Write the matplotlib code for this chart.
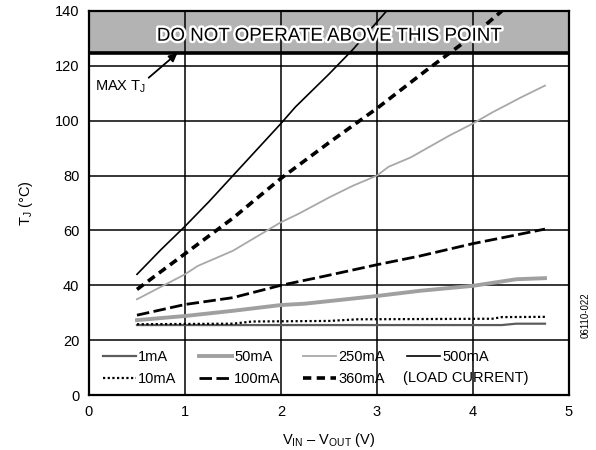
import matplotlib

matplotlib.use("Agg")
import matplotlib.pyplot as plt
import matplotlib.patheffects as pe
from matplotlib.lines import Line2D

plt.rcParams["font.family"] = ["Liberation Sans", "DejaVu Sans"]
plt.rcParams["mathtext.fontset"] = "custom"
plt.rcParams["mathtext.rm"] = "Liberation Sans"
plt.rcParams["mathtext.it"] = "Liberation Sans"

# junction temperature vs headroom, per load current
v_1ma = [0.5, 4.3, 4.45, 4.75]
t_1ma = [25.5, 25.5, 26.0, 26.0]

v_10ma = [0.5, 1.5, 1.7, 2.5, 2.8, 4.2, 4.3, 4.75]
t_10ma = [25.8, 26.0, 26.8, 27.0, 27.6, 27.8, 28.4, 28.5]

v_50ma = [0.5, 1.0, 1.5, 2.0, 2.25, 3.0, 3.45, 4.0, 4.45, 4.75]
t_50ma = [27.3, 28.8, 30.7, 32.8, 33.3, 36.1, 38.0, 39.8, 42.2, 42.6]

v_100ma = [0.5, 1.0, 1.5, 2.0, 2.45, 3.0, 3.45, 4.0, 4.4, 4.75]
t_100ma = [29.1, 33.0, 35.5, 40.0, 43.3, 47.5, 50.7, 55.2, 58.0, 60.5]

v_250ma = [0.5, 1.0, 1.13, 1.5, 2.0, 2.18, 2.5, 2.75, 3.0, 3.12, 3.35, 3.75, 4.0, 4.2, 4.5, 4.75]
t_250ma = [34.9, 44.0, 47.0, 52.6, 63.0, 66.0, 72.0, 76.3, 80.0, 83.2, 86.6, 94.5, 99.0, 103.0, 108.5, 112.8]

v_360ma = [0.5, 1.0, 1.5, 2.0, 2.5, 3.0, 3.5, 4.0, 4.3]
t_360ma = [38.5, 51.5, 64.5, 79.0, 92.0, 104.5, 118.0, 131.0, 140.0]

v_500ma = [0.5, 0.75, 1.0, 1.25, 1.5, 1.75, 2.0, 2.15, 2.5, 2.75, 3.1]
t_500ma = [44.0, 53.0, 61.5, 70.5, 80.0, 89.5, 99.0, 105.0, 117.0, 126.0, 140.0]

T_MAX = 125
X_TICKS = [0, 1, 2, 3, 4, 5]
Y_TICKS = [0, 20, 40, 60, 80, 100, 120, 140]

fig = plt.figure(figsize=(5.96, 4.5), dpi=100)
ax = fig.add_axes([0.1493, 0.1222, 0.8054, 0.8534])

ax.set_xlim(0, 5)
ax.set_ylim(0, 140)
ax.set_xticks(X_TICKS)
ax.set_yticks(Y_TICKS)
ax.tick_params(length=0, labelsize=10.5, pad=7)
for s in ax.spines.values():
    s.set_linewidth(1.6)
    s.set_zorder(5)

# forbidden zone above max Tj
ax.axhspan(T_MAX, 140, color="#b3b3b3", zorder=0.5)

# grid drawn by hand so it sits over the grey band
for xv in X_TICKS[1:-1]:
    ax.axvline(xv, color="black", lw=1.1, zorder=1)
for yv in Y_TICKS[1:-1]:
    ax.axhline(yv, color="black", lw=1.1, zorder=1)

ax.axhline(T_MAX - 0.5, color="black", lw=2.6, zorder=1.5)
ax.text(2.5, 130.8, "DO NOT OPERATE ABOVE THIS POINT", ha="center", va="center",
        fontsize=13.5, color="black", zorder=4,
        path_effects=[pe.withStroke(linewidth=3.5, foreground="white")])
ax.annotate("MAX T$_\\mathrm{J}$", xy=(0.92, 124.6), xytext=(0.06, 112.5),
            ha="left", va="center", fontsize=10.5, zorder=4,
            arrowprops=dict(arrowstyle="-|>", color="black", lw=1.3,
                            shrinkA=0, shrinkB=0, mutation_scale=12,
                            relpos=(0.95, 0.75)))

l1, = ax.plot(v_1ma, t_1ma, color="#5c5c5c", lw=1.6, label="1mA", zorder=3)
l10, = ax.plot(v_10ma, t_10ma, color="black", lw=1.6, dashes=(1, 1.1), label="10mA", zorder=3)
l50, = ax.plot(v_50ma, t_50ma, color="#a0a0a0", lw=2.8, label="50mA", zorder=3)
l100, = ax.plot(v_100ma, t_100ma, color="black", lw=2.0, dashes=(4.5, 1.6), label="100mA", zorder=3)
l250, = ax.plot(v_250ma, t_250ma, color="#a8a8a8", lw=1.3, label="250mA", zorder=3)
l360, = ax.plot(v_360ma, t_360ma, color="black", lw=2.6, dashes=(2.3, 1.5), label="360mA", zorder=3)
l500, = ax.plot(v_500ma, t_500ma, color="black", lw=1.2, label="500mA", zorder=3)

blank = Line2D([], [], visible=False)
handles = [l1, l10, l50, l100, l250, l360, l500, blank]
labels = ["1mA", "10mA", "50mA", "100mA", "250mA", "360mA", "500mA", " "]
ax.legend(handles, labels, ncol=4, loc="lower left", bbox_to_anchor=(0.01, 0.0),
          frameon=False, fontsize=10.5, handlelength=2.3, handletextpad=0.15,
          columnspacing=1.5, labelspacing=0.55, borderaxespad=0.2)
ax.text(0.654, 0.043, "(LOAD CURRENT)", transform=ax.transAxes, fontsize=10.5,
        ha="left", va="center")

ax.set_xlabel("V$_\\mathrm{IN}$ \u2013 V$_\\mathrm{OUT}$ (V)", fontsize=10.5, labelpad=9)
ax.set_ylabel("T$_\\mathrm{J}$ (\u00b0C)", fontsize=10.5, labelpad=14)
fig.text(0.982, 0.30, "06110-022", rotation=90, fontsize=7, ha="center", va="center")

fig.savefig("out.png", dpi=100)
plt.close(fig)
